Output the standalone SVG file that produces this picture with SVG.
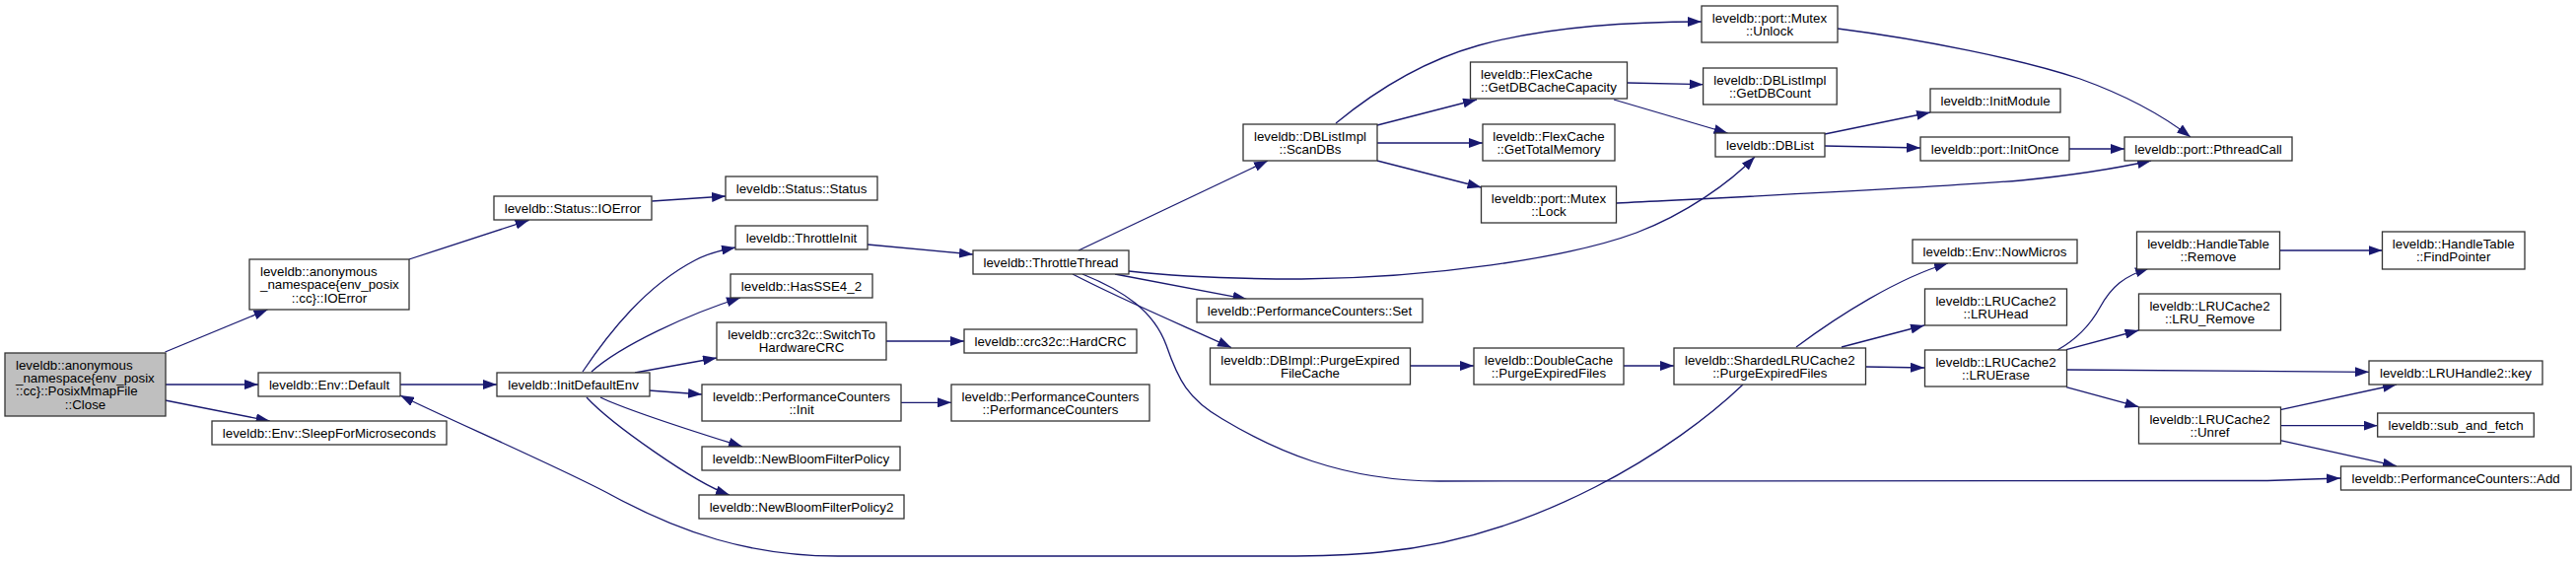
<svg xmlns="http://www.w3.org/2000/svg" width="2613" height="570" viewBox="0 0 2613 570">
<style>
.n rect{fill:#fff;stroke:#333;stroke-width:1.3}
.n.root rect{fill:#bfbfbf}
text{font-family:"Liberation Sans",Arial,sans-serif;font-size:13.33px;fill:#000}
.m{text-anchor:middle}
.e path{fill:none;stroke:#191970;stroke-width:1.3;marker-end:url(#a)}
</style>
<defs>
<marker id="a" markerUnits="userSpaceOnUse" markerWidth="14" markerHeight="10" refX="14" refY="5" orient="auto"><path d="M0,0L14,5L0,10z" fill="#191970"/></marker>
</defs>
<rect width="2613" height="570" fill="#fff"/>
<g id="edges" class="e">
<path d="M167.5,357L271.5,314"/>
<path d="M167.5,390L262,390"/>
<path d="M167.5,406L273.6,427"/>
<path d="M415,263L536.6,223.3"/>
<path d="M406,390L504,390"/>
<path d="M661.4,204L736,199"/>
<path d="M591,377C618,337 655,290 705,264C716,258 730,254 746,251"/>
<path d="M600,377C630,350 700,318 751,302"/>
<path d="M644,378L727,363"/>
<path d="M658,396L712,400"/>
<path d="M609,403C640,418 715,441 753,453"/>
<path d="M595,403C620,430 705,490 740,502"/>
<path d="M1768,390C1700,455 1560,545 1400,560C1370,563 1340,564 1300,564L850,564C760,564 690,540 620,502C570,475 450,423 406,401"/>
<path d="M899,346L978,346"/>
<path d="M914,408.3L965,408.3"/>
<path d="M880,248L987,258"/>
<path d="M1094,254L1286,163"/>
<path d="M1145,275C1200,281 1250,283 1320,283C1450,282 1590,262 1660,236C1710,217 1755,185 1780,159"/>
<path d="M1131,278L1264.5,303.3"/>
<path d="M1088,278C1140,305 1200,330 1249,352.5"/>
<path d="M1098,278C1140,295 1170,315 1183,350C1195,385 1205,405 1240,425C1290,455 1360,488 1460,488L2300,487.5L2374,485"/>
<path d="M1355,125C1400,88 1450,60 1500,46C1570,27 1650,22 1726,22"/>
<path d="M1397,127L1498,101"/>
<path d="M1397,145L1504,145"/>
<path d="M1397,163L1502.5,190"/>
<path d="M1650.6,84L1727.6,85.7"/>
<path d="M1637,101L1752.5,135"/>
<path d="M1851,136L1958,114"/>
<path d="M1851,148L1948,150"/>
<path d="M1640,206C1800,198 1950,191 2050,183C2110,177 2150,170 2182,163"/>
<path d="M1864,29C1950,40 2050,60 2110,80C2160,98 2195,118 2222,139"/>
<path d="M2099,151L2155,151"/>
<path d="M1430.5,371L1495,371"/>
<path d="M1647,371L1698,371"/>
<path d="M1822,352C1865,320 1925,282 1976,267"/>
<path d="M1868,352L1952,330"/>
<path d="M1892.6,372L1952,373"/>
<path d="M2087,355C2105,345 2120,330 2130,312C2142,290 2155,280 2180,272"/>
<path d="M2312,254L2416.5,254"/>
<path d="M2096,354.7L2169.5,335"/>
<path d="M2096,375L2403,377.3"/>
<path d="M2096,392.7L2169.5,412.7"/>
<path d="M2313,415.7L2431,390"/>
<path d="M2313,431.7L2411.7,431.7"/>
<path d="M2313,446.7L2431,472.7"/>
</g>
<g id="close" class="n root"><rect x="5" y="358" width="163" height="64"/><text x="16" y="374.7">leveldb::anonymous</text><text x="16" y="388">_namespace{env_posix</text><text x="16" y="401.4">::cc}::PosixMmapFile</text><text class="m" x="86.5" y="414.7">::Close</text></g>
<g id="anonIOError" class="n"><rect x="253" y="263" width="162" height="51"/><text x="264" y="279.9">leveldb::anonymous</text><text x="264" y="293.2">_namespace{env_posix</text><text class="m" x="334" y="306.5">::cc}::IOError</text></g>
<g id="statusIOError" class="n"><rect x="501" y="199" width="160" height="24"/><text class="m" x="581" y="215.7">leveldb::Status::IOError</text></g>
<g id="envDefault" class="n"><rect x="262" y="378" width="144" height="24"/><text class="m" x="334" y="394.7">leveldb::Env::Default</text></g>
<g id="sleep" class="n"><rect x="215" y="427" width="238" height="24"/><text class="m" x="334" y="443.7">leveldb::Env::SleepForMicroseconds</text></g>
<g id="initDefaultEnv" class="n"><rect x="504" y="378" width="155" height="24"/><text class="m" x="581.5" y="394.7">leveldb::InitDefaultEnv</text></g>
<g id="statusStatus" class="n"><rect x="736" y="179" width="154" height="24"/><text class="m" x="813" y="195.7">leveldb::Status::Status</text></g>
<g id="throttleInit" class="n"><rect x="746" y="229" width="134" height="24"/><text class="m" x="813" y="245.7">leveldb::ThrottleInit</text></g>
<g id="hasSSE" class="n"><rect x="741" y="278" width="144" height="24"/><text class="m" x="813" y="294.7">leveldb::HasSSE4_2</text></g>
<g id="switchCRC" class="n"><rect x="727" y="327" width="172" height="38"/><text class="m" x="813" y="344">leveldb::crc32c::SwitchTo</text><text class="m" x="813" y="357.3">HardwareCRC</text></g>
<g id="hardCRC" class="n"><rect x="978" y="334" width="175" height="24"/><text class="m" x="1065.5" y="350.7">leveldb::crc32c::HardCRC</text></g>
<g id="perfInit" class="n"><rect x="712" y="390" width="202" height="37"/><text class="m" x="813" y="406.5">leveldb::PerformanceCounters</text><text class="m" x="813" y="419.8">::Init</text></g>
<g id="perfCtor" class="n"><rect x="965" y="390" width="201" height="37"/><text class="m" x="1065.5" y="406.5">leveldb::PerformanceCounters</text><text class="m" x="1065.5" y="419.8">::PerformanceCounters</text></g>
<g id="newBloom" class="n"><rect x="712" y="453" width="201" height="24"/><text class="m" x="812.5" y="469.7">leveldb::NewBloomFilterPolicy</text></g>
<g id="newBloom2" class="n"><rect x="709" y="502" width="208" height="24"/><text class="m" x="813" y="518.7">leveldb::NewBloomFilterPolicy2</text></g>
<g id="throttleThread" class="n"><rect x="987" y="254" width="158" height="24"/><text class="m" x="1066" y="270.7">leveldb::ThrottleThread</text></g>
<g id="scanDBs" class="n"><rect x="1261" y="126" width="136" height="37"/><text class="m" x="1329" y="142.5">leveldb::DBListImpl</text><text class="m" x="1329" y="155.8">::ScanDBs</text></g>
<g id="perfSet" class="n"><rect x="1214" y="303" width="229" height="24"/><text class="m" x="1328.5" y="319.7">leveldb::PerformanceCounters::Set</text></g>
<g id="purgeFileCache" class="n"><rect x="1227.5" y="353" width="203" height="37"/><text class="m" x="1329" y="369.5">leveldb::DBImpl::PurgeExpired</text><text class="m" x="1329" y="382.8">FileCache</text></g>
<g id="unlock" class="n"><rect x="1726" y="6" width="138" height="37"/><text class="m" x="1795" y="22.5">leveldb::port::Mutex</text><text class="m" x="1795" y="35.8">::Unlock</text></g>
<g id="getDBCacheCap" class="n"><rect x="1491.5" y="63" width="159" height="37"/><text x="1502" y="79.5">leveldb::FlexCache</text><text class="m" x="1571" y="92.8">::GetDBCacheCapacity</text></g>
<g id="getDBCount" class="n"><rect x="1727.6" y="69" width="135.6" height="37"/><text class="m" x="1795.4" y="85.5">leveldb::DBListImpl</text><text class="m" x="1795.4" y="98.8">::GetDBCount</text></g>
<g id="getTotalMem" class="n"><rect x="1504" y="126" width="134" height="37"/><text class="m" x="1571" y="142.5">leveldb::FlexCache</text><text class="m" x="1571" y="155.8">::GetTotalMemory</text></g>
<g id="lock" class="n"><rect x="1502.5" y="189" width="137" height="37"/><text class="m" x="1571" y="205.5">leveldb::port::Mutex</text><text class="m" x="1571" y="218.8">::Lock</text></g>
<g id="dbList" class="n"><rect x="1740" y="135" width="111" height="24"/><text class="m" x="1795.5" y="151.7">leveldb::DBList</text></g>
<g id="initModule" class="n"><rect x="1958" y="90" width="132" height="24"/><text class="m" x="2024" y="106.7">leveldb::InitModule</text></g>
<g id="initOnce" class="n"><rect x="1948" y="139" width="151" height="24"/><text class="m" x="2023.5" y="155.7">leveldb::port::InitOnce</text></g>
<g id="pthreadCall" class="n"><rect x="2155" y="139" width="170" height="24"/><text class="m" x="2240" y="155.7">leveldb::port::PthreadCall</text></g>
<g id="doubleCache" class="n"><rect x="1495" y="353" width="152" height="37"/><text class="m" x="1571" y="369.5">leveldb::DoubleCache</text><text class="m" x="1571" y="382.8">::PurgeExpiredFiles</text></g>
<g id="sharded" class="n"><rect x="1698" y="353" width="194.5" height="37"/><text class="m" x="1795.3" y="369.5">leveldb::ShardedLRUCache2</text><text class="m" x="1795.3" y="382.8">::PurgeExpiredFiles</text></g>
<g id="nowMicros" class="n"><rect x="1940" y="243" width="167" height="24"/><text class="m" x="2023.5" y="259.7">leveldb::Env::NowMicros</text></g>
<g id="lruHead" class="n"><rect x="1952.5" y="293" width="144" height="37"/><text class="m" x="2024.5" y="309.5">leveldb::LRUCache2</text><text class="m" x="2024.5" y="322.8">::LRUHead</text></g>
<g id="lruErase" class="n"><rect x="1952.5" y="355" width="144" height="37"/><text class="m" x="2024.5" y="371.5">leveldb::LRUCache2</text><text class="m" x="2024.5" y="384.8">::LRUErase</text></g>
<g id="htRemove" class="n"><rect x="2167.5" y="235" width="145" height="38"/><text class="m" x="2240" y="252">leveldb::HandleTable</text><text class="m" x="2240" y="265.3">::Remove</text></g>
<g id="htFind" class="n"><rect x="2416.5" y="235" width="144.5" height="38"/><text class="m" x="2488.7" y="252">leveldb::HandleTable</text><text class="m" x="2488.7" y="265.3">::FindPointer</text></g>
<g id="lruRemove" class="n"><rect x="2169.5" y="298" width="144" height="37"/><text class="m" x="2241.5" y="314.5">leveldb::LRUCache2</text><text class="m" x="2241.5" y="327.8">::LRU_Remove</text></g>
<g id="lruKey" class="n"><rect x="2403" y="366" width="176" height="24"/><text class="m" x="2491" y="382.7">leveldb::LRUHandle2::key</text></g>
<g id="unref" class="n"><rect x="2169.5" y="413" width="144" height="37"/><text class="m" x="2241.5" y="429.5">leveldb::LRUCache2</text><text class="m" x="2241.5" y="442.8">::Unref</text></g>
<g id="subFetch" class="n"><rect x="2411.7" y="419" width="158.6" height="24"/><text class="m" x="2491" y="435.7">leveldb::sub_and_fetch</text></g>
<g id="perfAdd" class="n"><rect x="2374.5" y="473" width="233.5" height="24"/><text class="m" x="2491.2" y="489.7">leveldb::PerformanceCounters::Add</text></g>
</svg>
